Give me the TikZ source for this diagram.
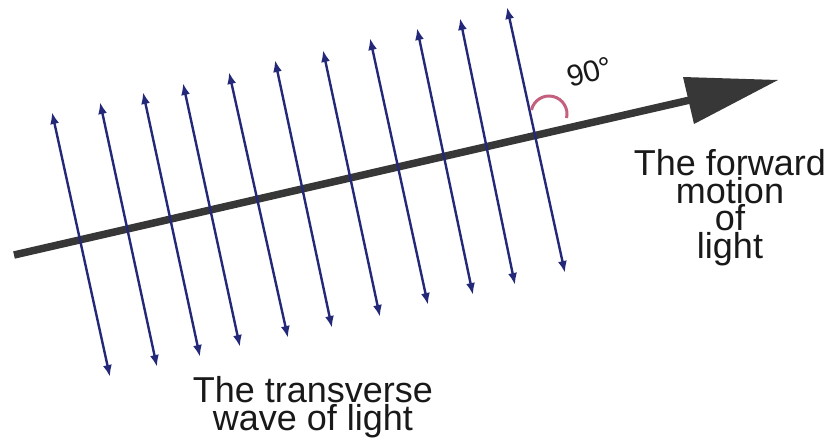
\documentclass[tikz,border=0pt]{standalone}
\usepackage{fontspec}
\setmainfont{Liberation Sans}
\usetikzlibrary{arrows.meta}
\definecolor{wavecol}{RGB}{35,40,120}
\definecolor{maincol}{RGB}{55,55,55}
\definecolor{anglecol}{RGB}{196,95,125}
\definecolor{textcol}{RGB}{25,25,25}
\tikzset{
  wave/.style={draw=wavecol, line width=2.4pt, {Latex[length=12pt,width=9pt]}-{Latex[length=12pt,width=9pt]}},
  mainline/.style={draw=maincol, line width=7.5pt},
  mainhead/.style={fill=maincol},
  anglearc/.style={draw=anglecol, line width=3pt},
  label/.style={inner sep=0pt, align=center, text=textcol, font=\fontsize{36}{25}\selectfont},
}
\begin{document}
\begin{tikzpicture}[x=1pt,y=-1pt]
\useasboundingbox (0,0) rectangle (830,437);
% main direction of light
\coordinate (ms) at (14,255);
\coordinate (mb) at (690,100);
\coordinate (mt) at (778,80);
\coordinate (hl) at (683,77);
\coordinate (hr) at (694,124);
\draw[mainline] (ms) -- (mb);
\fill[mainhead] (hl) -- (mt) -- (hr) -- cycle;
% transverse oscillations
\foreach \i/\tx/\ty/\bx/\by in {
  1/52/112/110/377, 2/100/102/157/367, 3/143/92/200/357, 4/183/83/240/347,
  5/229/72/288/338, 6/275/60/332/328, 7/323/50/380/317, 8/370/38/428/305,
  9/417/28/473/295, 10/460/18/515/285, 11/507/7/565/273}{
  \coordinate (t\i) at (\tx,\ty);
  \coordinate (b\i) at (\bx,\by);
  \draw[wave] (t\i) -- (b\i);
}
% right angle mark
\coordinate (ac) at (549,114);
\draw[anglearc] ([shift={(-167:18)}]ac) arc[start angle=-167, end angle=13, radius=18];
\node[inner sep=0pt, rotate=15, text=textcol, font=\fontsize{30}{30}\selectfont] (deg) at (590,72) {90°};
% labels
\node[label, anchor=base] (fwd) at (730,258) {The forward\\motion\\of\\light};
\node[label, anchor=base] (trans) at (313,430) {The transverse\\wave of light};
\end{tikzpicture}
\end{document}
